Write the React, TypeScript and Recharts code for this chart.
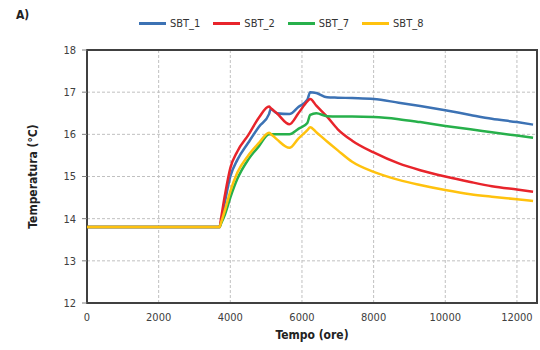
import React from 'react';
import { LineChart, Line, XAxis, YAxis, CartesianGrid, ReferenceArea } from 'recharts';

// tempo (ore)
const tempo = [0, 3700, 3740, 3850, 4000, 4200, 4500, 4800, 5080, 5130, 5300, 5650, 5900, 6150, 6230, 6400, 6700, 7000, 7400, 8000, 8700, 9300, 10000, 10700, 11300, 12000, 12450];

const sbt1 = [13.8, 13.8, 13.92, 14.4, 15.0, 15.4, 15.8, 16.18, 16.48, 16.6, 16.5, 16.48, 16.65, 16.82, 17.0, 16.98, 16.88, 16.87, 16.86, 16.84, 16.75, 16.67, 16.57, 16.46, 16.37, 16.29, 16.23];
const sbt2 = [13.8, 13.8, 14.0, 14.56, 15.2, 15.6, 15.98, 16.4, 16.66, 16.62, 16.5, 16.24, 16.5, 16.78, 16.84, 16.68, 16.42, 16.12, 15.85, 15.57, 15.31, 15.15, 15.0, 14.87, 14.77, 14.69, 14.64];
const sbt7 = [13.8, 13.8, 13.88, 14.1, 14.5, 14.95, 15.4, 15.72, 16.0, 16.0, 16.0, 16.0, 16.13, 16.27, 16.46, 16.5, 16.43, 16.42, 16.42, 16.41, 16.36, 16.29, 16.2, 16.12, 16.05, 15.97, 15.92];
const sbt8 = [13.8, 13.8, 13.9, 14.2, 14.65, 15.1, 15.5, 15.8, 16.04, 16.01, 15.88, 15.68, 15.9, 16.1, 16.17, 16.05, 15.83, 15.62, 15.35, 15.11, 14.92, 14.8, 14.68, 14.58, 14.52, 14.46, 14.42];

const xTicks = [0, 2000, 4000, 6000, 8000, 10000, 12000];
const yTicks = [12, 13, 14, 15, 16, 17, 18];

const series = [
  { key: 'SBT_1', color: '#3c72b4', values: sbt1 },
  { key: 'SBT_2', color: '#e8242b', values: sbt2 },
  { key: 'SBT_7', color: '#27b04b', values: sbt7 },
  { key: 'SBT_8', color: '#ffc20e', values: sbt8 },
];

const data = tempo.map((t, i) => {
  const row: Record<string, number> = { t };
  series.forEach((s) => {
    row[s.key] = s.values[i];
  });
  return row;
});

const font = "'Liberation Sans Narrow', 'DejaVu Sans Condensed', 'Liberation Sans', sans-serif";
const tickStyle = { fontSize: 11, fill: '#404040', fontFamily: font };

export default function App() {
  return (
    <div style={{ position: 'absolute', left: 0, top: 0, width: 540, height: 350, background: '#fff', fontFamily: font }}>
      <div style={{ position: 'absolute', left: 16, top: 8, fontSize: 12, fontWeight: 'bold', color: '#222' }}>A)</div>
      <div style={{ position: 'absolute', left: 139, top: 17, display: 'flex', alignItems: 'center', fontSize: 11, color: '#333' }}>
        {series.map((s) => (
          <div key={s.key} style={{ display: 'flex', alignItems: 'center', marginRight: 13 }}>
            <div style={{ width: 27, height: 3, background: s.color, marginRight: 4 }} />
            <span>{s.key}</span>
          </div>
        ))}
      </div>
      <LineChart width={540} height={350} data={data} margin={{ top: 50, right: 3, bottom: 0, left: 20 }}>
        <CartesianGrid stroke="#c0c0c0" strokeDasharray="3 2" />
        <XAxis
          dataKey="t"
          type="number"
          domain={[0, 12560]}
          ticks={xTicks}
          tick={tickStyle}
          tickLine={false}
          axisLine={false}
          tickSize={4}
          tickMargin={6}
          height={47}
          label={{ value: 'Tempo (ore)', position: 'insideBottom', offset: 11, style: { fontSize: 12, fontWeight: 'bold', fill: '#222', fontFamily: font } }}
        />
        <YAxis
          type="number"
          domain={[12, 18]}
          ticks={yTicks}
          tick={tickStyle}
          tickLine={{ stroke: '#808080' }}
          axisLine={false}
          tickSize={5}
          tickMargin={6}
          width={67}
          label={{ value: 'Temperatura (°C)', angle: -90, position: 'insideLeft', offset: 13, style: { textAnchor: 'middle', fontSize: 12, fontWeight: 'bold', fill: '#222', fontFamily: font } }}
        />
        <ReferenceArea x1={0} x2={12560} y1={12} y2={18} fill="none" stroke="#404040" strokeWidth={2} fillOpacity={0} />
        {series.map((s) => (
          <Line
            key={s.key}
            dataKey={s.key}
            type="monotone"
            stroke={s.color}
            strokeWidth={2.5}
            dot={false}
            isAnimationActive={false}
          />
        ))}
      </LineChart>
    </div>
  );
}
